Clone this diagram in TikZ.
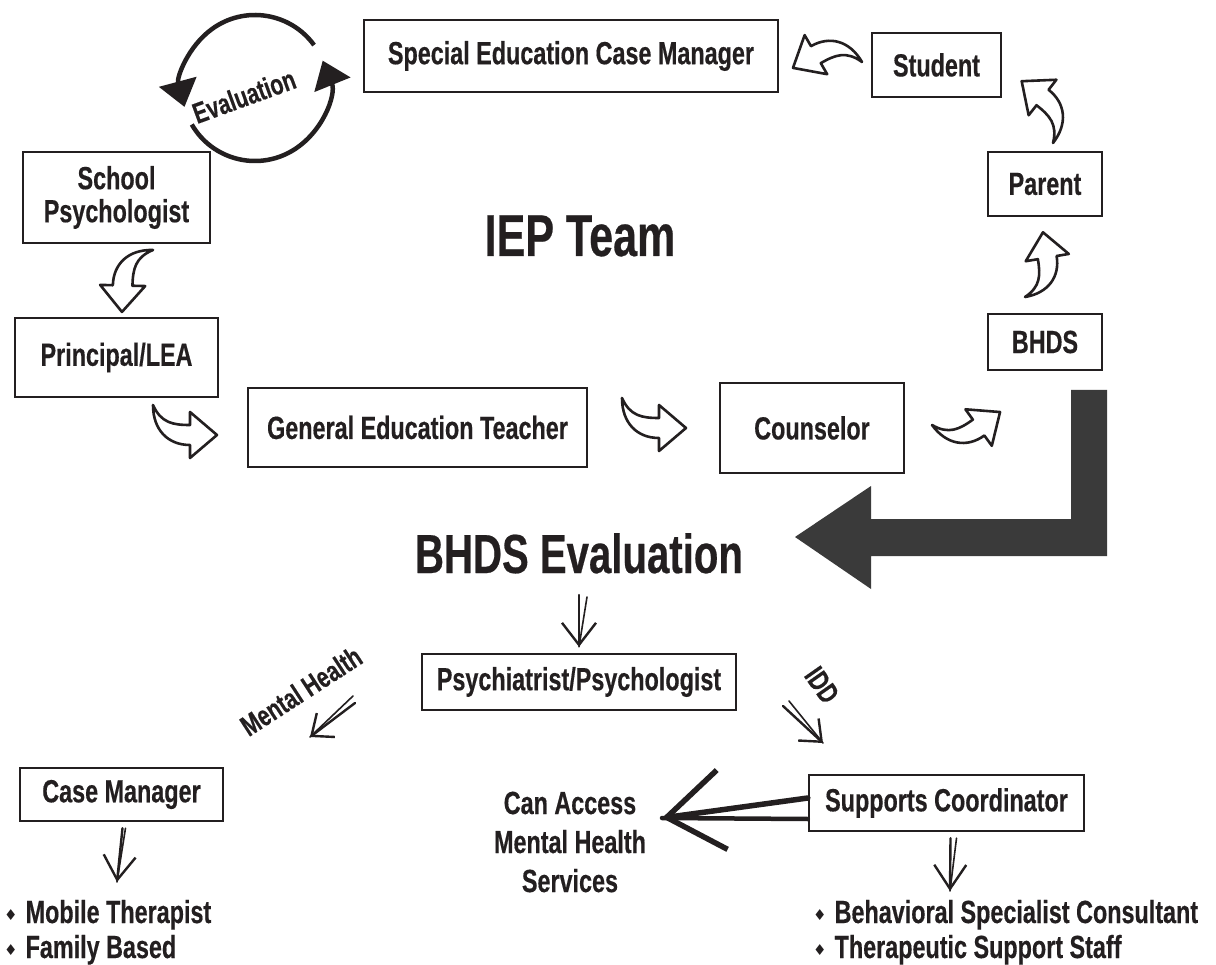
\documentclass[tikz,border=0pt]{standalone}
\usepackage{fontspec}
\setmainfont{Liberation Sans}[FakeStretch=0.73, BoldFeatures={FakeBold=0.4}]
\newfontfamily\dingfont{DejaVu Sans}
\usetikzlibrary{arrows.meta, positioning, calc}
\definecolor{ink}{HTML}{231F20}
\definecolor{slab}{HTML}{3A3A3A}
\newcommand{\bul}{{\dingfont\fontsize{15}{15}\selectfont\raisebox{3pt}{♦}}\hspace{8pt}}

\begin{document}
\begin{tikzpicture}[
    x=1pt, y=-1pt,
    % 1. boxes for the people on the team
    member/.style={rectangle, draw=ink, line width=2.4pt, inner sep=0pt, align=center,
        text=ink, font=\bfseries\fontsize{32}{33}\selectfont},
    % 2. big headings, small tilted tags and the lists
    heading/.style={inner sep=0pt, text=ink, font=\bfseries\fontsize{59}{62}\selectfont},
    tag/.style={inner sep=0pt, text=ink, font=\bfseries\fontsize{29}{30}\selectfont},
    listtext/.style={inner sep=0pt, text=ink, align=left, font=\bfseries\fontsize{32}{39}\selectfont},
    % 3. hand drawn arrows
    sketch/.style={ink, line width=2.4pt, line cap=round,
        -{Straight Barb[length=22pt, width=34pt, line width=2.4pt]}},
    stroke/.style={ink, line width=1.6pt, line cap=round},
    % 4. hollow bent arrow, tail at the origin
    swoosh/.pic={
        \draw[ink, fill=white, line width=2.6pt, line join=round]
            (0,0) .. controls (8,18) and (20,20) .. (37,20) -- (37,7) -- (64,30)
            -- (37,53) -- (37,40) .. controls (15,40) and (0,25) .. (0,0) -- cycle;
    }
]
    \path[use as bounding box, fill=white] (0,0) rectangle (1216,965);

    % --- TOP OF THE LOOP ---
    \node[member, minimum width=414pt, minimum height=72pt] (sped) at (571,56) {Special Education Case Manager};
    \node[member, minimum width=129pt, minimum height=64pt] (student) at (936.5,65) {Student};
    \node[member, minimum width=114pt, minimum height=64pt] (parent) at (1045,184) {Parent};
    \node[member, minimum width=187pt, minimum height=91pt] (schoolpsych) at (116.5,197.5) {School\\Psychologist};
    \node[member, minimum width=114pt, minimum height=56pt] (bhds) at (1045,342) {BHDS};

    % --- BOTTOM OF THE LOOP ---
    \node[member, minimum width=203pt, minimum height=79pt] (principal) at (116.5,357.5) {Principal/LEA};
    \node[member, minimum width=339pt, minimum height=79pt] (gened) at (417.5,427.5) {General Education Teacher};
    \node[member, minimum width=184pt, minimum height=90pt] (counselor) at (812,428) {Counselor};

    \node[heading, anchor=base] (iep) at (580,256) {IEP Team};
    \node[heading, anchor=base, font=\bfseries\fontsize{55}{58}\selectfont] (bhdseval) at (579,573) {BHDS Evaluation};

    % --- EVALUATION CIRCLE ---
    \coordinate (evc) at (255,88);
    \draw[ink, line width=4.5pt, -{Triangle[length=26pt, width=38pt]}] ($(evc)+(-36:73)$) arc[start angle=-36, end angle=-195, radius=73];
    \draw[ink, line width=4.5pt, -{Triangle[length=26pt, width=38pt]}] ($(evc)+(150:73)$) arc[start angle=150, end angle=-22, radius=73];
    \node[tag, rotate=20] (evaltag) at (244,96) {Evaluation};

    % --- HOLLOW ARROWS ROUND THE LOOP ---
    \pic[rotate=-91.5, scale=0.98] at (153,250) {swoosh};  % school psych -> principal
    \pic at (153,405) {swoosh};                            % principal -> teacher
    \pic at (622,398) {swoosh};                            % teacher -> counselor
    \pic[rotate=35.9, scale=0.98] at (932,425) {swoosh};   % counselor -> bhds
    \pic[rotate=99.6, scale=0.95] at (1025,297) {swoosh};  % bhds -> parent
    \pic[rotate=142, scale=0.98] at (1053,143) {swoosh};   % parent -> student
    \pic[rotate=210, scale=0.98] at (862,62) {swoosh};     % student -> case manager

    % --- BIG ARROW DOWN TO THE EVALUATION ---
    \fill[slab] (1071,390) -- (1107,390) -- (1107,556) -- (871,556) -- (871,589) -- (795,537)
        -- (871,486) -- (871,519) -- (1071,519) -- cycle;

    % --- SERVICES ---
    \node[member, minimum width=314pt, minimum height=56pt] (psych) at (579,682) {Psychiatrist/Psychologist};
    \node[member, minimum width=203pt, minimum height=53pt] (casemgr) at (121.5,794.5) {Case Manager};
    \node[member, minimum width=275pt, minimum height=56pt] (supports) at (946.5,803) {Supports Coordinator};
    \node[listtext, align=center] (access) at (570,842) {Can Access\\Mental Health\\Services};

    \node[tag, rotate=33] (mhtag) at (301,691) {Mental Health};
    \node[tag, rotate=-55] (iddtag) at (822,685) {IDD};

    \node[listtext, anchor=base west] (mobile) at (4,923) {\bul Mobile Therapist};
    \node[listtext, anchor=base west] (family) at (4,958) {\bul Family Based};
    \node[listtext, anchor=base west] (behav) at (813,923) {\bul Behavioral Specialist Consultant};
    \node[listtext, anchor=base west] (therap) at (813,958) {\bul Therapeutic Support Staff};

    % --- SKETCHED ARROWS ---
    \draw[sketch, shorten <=22pt, shorten >=6pt] (bhdseval.base) -- (psych.north);
    \draw[stroke] ($(bhdseval.base)+(8,24)$) -- ($(psych.north)+(0,-6)$);

    \coordinate (mhfrom) at (355,703);
    \coordinate (mhto) at (310,737);
    \draw[sketch, -{Straight Barb[length=18pt, width=30pt, line width=2.4pt]}] (mhfrom) -- (mhto);
    \draw[stroke] ($(mhfrom)+(-2,-7)$) -- (mhto);

    \coordinate (iddfrom) at (783,706);
    \coordinate (iddto) at (823,743);
    \draw[sketch, -{Straight Barb[length=18pt, width=30pt, line width=2.4pt]}] (iddfrom) -- (iddto);
    \draw[stroke] ($(iddfrom)+(6,-5)$) -- (iddto);

    \coordinate (acctip) at (662,818);
    \draw[sketch, line width=5.5pt, -{Straight Barb[length=56pt, width=80pt, line width=5.5pt]}] ([yshift=5pt]supports.west) -- (acctip);
    \draw[stroke, line width=4.5pt] ([yshift=-16pt]supports.west) -- (acctip);

    \coordinate (cmtip) at (117,882);
    \draw[sketch, -{Straight Barb[length=24pt, width=32pt, line width=2.4pt]}] ([xshift=1pt, yshift=-6pt]casemgr.south) -- (cmtip);
    \draw[stroke] ([xshift=4pt, yshift=-6pt]casemgr.south) -- (cmtip);

    \coordinate (sctip) at (950,891);
    \draw[sketch, -{Straight Barb[length=24pt, width=32pt, line width=2.4pt]}] ([xshift=4pt, yshift=-6pt]supports.south) -- (sctip);
    \draw[stroke] ([xshift=10pt, yshift=-6pt]supports.south) -- (sctip);

\end{tikzpicture}
\end{document}
